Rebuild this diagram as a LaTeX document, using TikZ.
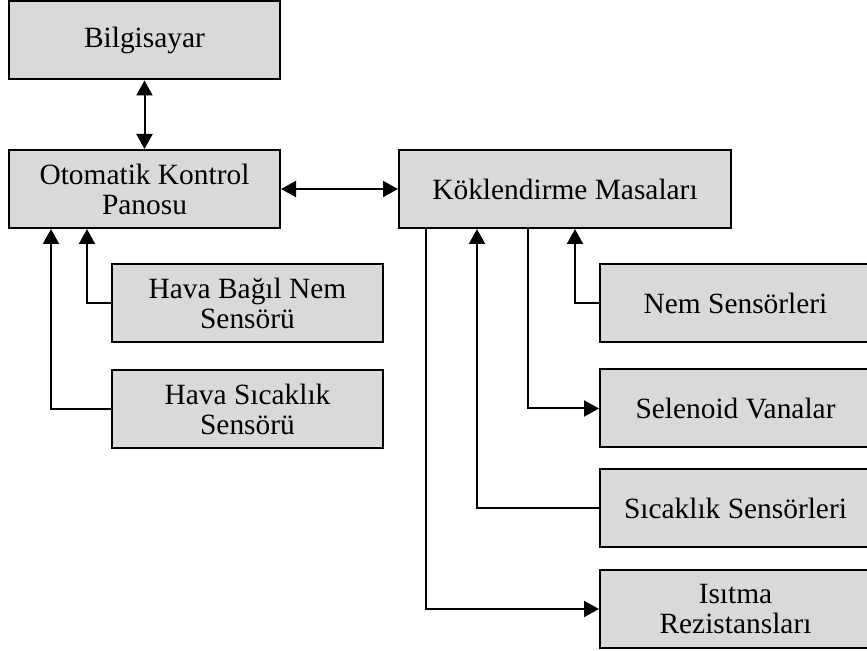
\documentclass[tikz,border=0pt]{standalone}
\usepackage{fontspec}
\setmainfont{Liberation Serif}
\usepackage{tikz}
\usetikzlibrary{arrows.meta}
\tikzset{
  blok/.style={draw=black, line width=1pt, fill=black!15, minimum width=135.5pt, minimum height=39pt, inner sep=0pt, align=center, font=\fontsize{14.7}{15}\selectfont},
  genis/.style={blok, minimum width=166pt},
  ok/.style={line width=1pt, -{Triangle[length=7.5pt,width=8pt]}},
  ciftok/.style={line width=1pt, {Triangle[length=7.5pt,width=8pt]}-{Triangle[length=7.5pt,width=8pt]}}
}

\begin{document}
\begin{tikzpicture}[x=0.5pt, y=-0.5pt]
  \useasboundingbox (0,0) rectangle (867,651);
  \node[blok] (bil) at (144.5,40.5) {Bilgisayar};
  \node[blok] (okp) at (144.5,189) {Otomatik Kontrol\\Panosu};
  \node[genis] (km) at (565,189) {Köklendirme Masaları};
  \node[blok] (hbn) at (247.5,303) {Hava Bağıl Nem\\Sensörü};
  \node[blok] (hs) at (247.5,409) {Hava Sıcaklık\\Sensörü};
  \node[blok] (nem) at (735.5,303) {Nem Sensörleri};
  \node[blok] (sel) at (735.5,408.5) {Selenoid Vanalar};
  \node[blok] (sic) at (735.5,508) {Sıcaklık Sensörleri};
  \node[blok] (isi) at (735.5,609) {Isıtma\\Rezistansları};

  \draw[ciftok] (bil) -- (okp);
  \draw[ciftok] (okp) -- (km);
  \draw[ok] (hbn.west) -| ([xshift=39.5pt]okp.south west);
  \draw[ok] (hs.west) -| ([xshift=21.5pt]okp.south west);
  \draw[ok] (nem.west) -| ([xshift=88.5pt]km.south west);
  \draw[ok] ([xshift=65pt]km.south west) |- (sel.west);
  \draw[ok] (sic.west) -| ([xshift=39.5pt]km.south west);
  \draw[ok] ([xshift=14pt]km.south west) |- (isi.west);
\end{tikzpicture}
\end{document}
